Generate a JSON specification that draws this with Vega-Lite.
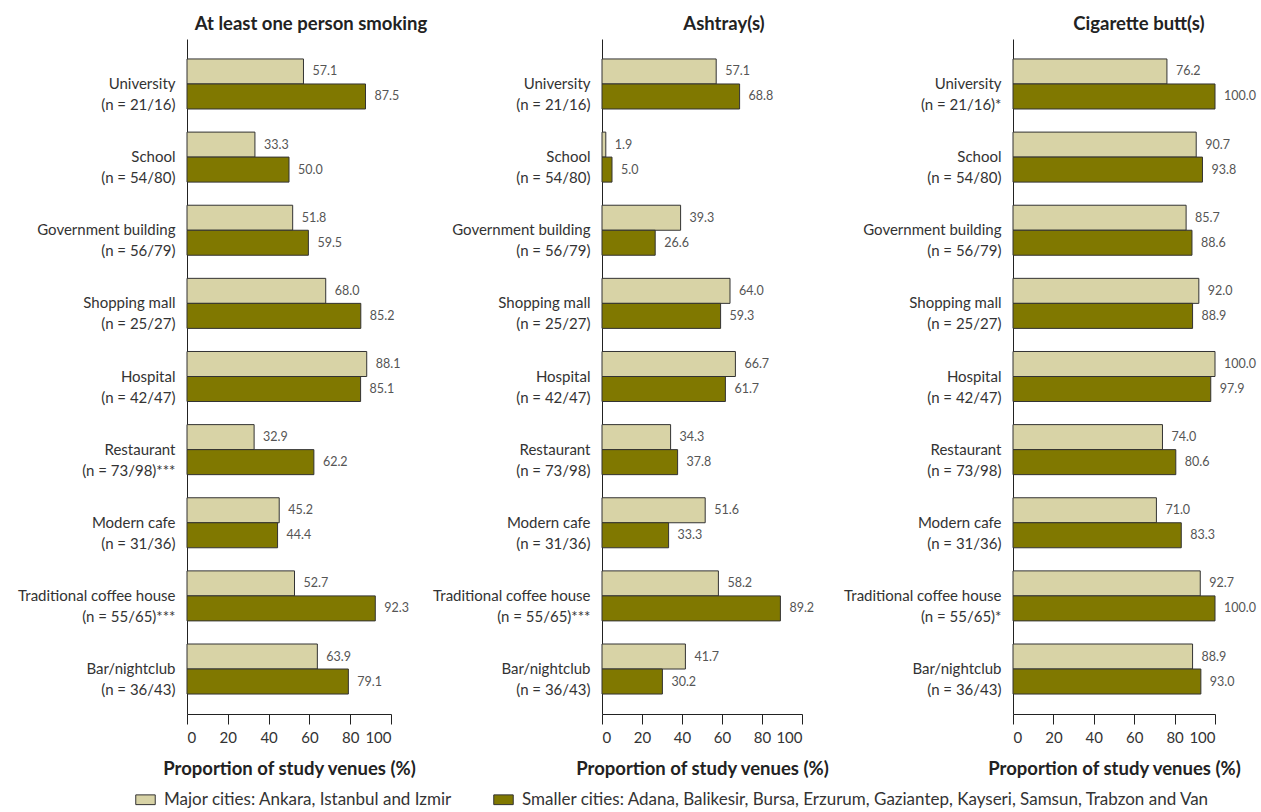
{
  "$schema": "https://vega.github.io/schema/vega-lite/v6.json",
  "padding": {"left": 17, "top": 14, "right": 5, "bottom": 5},
  "config": {
    "font": "Lato, sans-serif",
    "view": {"stroke": null},
    "concat": {"spacing": 211},
    "axis": {"domainColor": "#222", "tickColor": "#222", "labelColor": "#333", "titleColor": "#222", "grid": false}
  },
  "bounds": "flush",
  "data": {"values": [
    {"panel": "smoke", "venue": "University|(n = 21/16)", "o": 1, "g": "Major cities: Ankara, Istanbul and Izmir", "v": 57.1},
    {"panel": "smoke", "venue": "University|(n = 21/16)", "o": 1, "g": "Smaller cities: Adana, Balikesir, Bursa, Erzurum, Gaziantep, Kayseri, Samsun, Trabzon and Van", "v": 87.5},
    {"panel": "smoke", "venue": "School|(n = 54/80)", "o": 2, "g": "Major cities: Ankara, Istanbul and Izmir", "v": 33.3},
    {"panel": "smoke", "venue": "School|(n = 54/80)", "o": 2, "g": "Smaller cities: Adana, Balikesir, Bursa, Erzurum, Gaziantep, Kayseri, Samsun, Trabzon and Van", "v": 50.0},
    {"panel": "smoke", "venue": "Government building|(n = 56/79)", "o": 3, "g": "Major cities: Ankara, Istanbul and Izmir", "v": 51.8},
    {"panel": "smoke", "venue": "Government building|(n = 56/79)", "o": 3, "g": "Smaller cities: Adana, Balikesir, Bursa, Erzurum, Gaziantep, Kayseri, Samsun, Trabzon and Van", "v": 59.5},
    {"panel": "smoke", "venue": "Shopping mall|(n = 25/27)", "o": 4, "g": "Major cities: Ankara, Istanbul and Izmir", "v": 68.0},
    {"panel": "smoke", "venue": "Shopping mall|(n = 25/27)", "o": 4, "g": "Smaller cities: Adana, Balikesir, Bursa, Erzurum, Gaziantep, Kayseri, Samsun, Trabzon and Van", "v": 85.2},
    {"panel": "smoke", "venue": "Hospital|(n = 42/47)", "o": 5, "g": "Major cities: Ankara, Istanbul and Izmir", "v": 88.1},
    {"panel": "smoke", "venue": "Hospital|(n = 42/47)", "o": 5, "g": "Smaller cities: Adana, Balikesir, Bursa, Erzurum, Gaziantep, Kayseri, Samsun, Trabzon and Van", "v": 85.1},
    {"panel": "smoke", "venue": "Restaurant|(n = 73/98)***", "o": 6, "g": "Major cities: Ankara, Istanbul and Izmir", "v": 32.9},
    {"panel": "smoke", "venue": "Restaurant|(n = 73/98)***", "o": 6, "g": "Smaller cities: Adana, Balikesir, Bursa, Erzurum, Gaziantep, Kayseri, Samsun, Trabzon and Van", "v": 62.2},
    {"panel": "smoke", "venue": "Modern cafe|(n = 31/36)", "o": 7, "g": "Major cities: Ankara, Istanbul and Izmir", "v": 45.2},
    {"panel": "smoke", "venue": "Modern cafe|(n = 31/36)", "o": 7, "g": "Smaller cities: Adana, Balikesir, Bursa, Erzurum, Gaziantep, Kayseri, Samsun, Trabzon and Van", "v": 44.4},
    {"panel": "smoke", "venue": "Traditional coffee house|(n = 55/65)***", "o": 8, "g": "Major cities: Ankara, Istanbul and Izmir", "v": 52.7},
    {"panel": "smoke", "venue": "Traditional coffee house|(n = 55/65)***", "o": 8, "g": "Smaller cities: Adana, Balikesir, Bursa, Erzurum, Gaziantep, Kayseri, Samsun, Trabzon and Van", "v": 92.3},
    {"panel": "smoke", "venue": "Bar/nightclub|(n = 36/43)", "o": 9, "g": "Major cities: Ankara, Istanbul and Izmir", "v": 63.9},
    {"panel": "smoke", "venue": "Bar/nightclub|(n = 36/43)", "o": 9, "g": "Smaller cities: Adana, Balikesir, Bursa, Erzurum, Gaziantep, Kayseri, Samsun, Trabzon and Van", "v": 79.1},

    {"panel": "ash", "venue": "University|(n = 21/16)", "o": 1, "g": "Major cities: Ankara, Istanbul and Izmir", "v": 57.1},
    {"panel": "ash", "venue": "University|(n = 21/16)", "o": 1, "g": "Smaller cities: Adana, Balikesir, Bursa, Erzurum, Gaziantep, Kayseri, Samsun, Trabzon and Van", "v": 68.8},
    {"panel": "ash", "venue": "School|(n = 54/80)", "o": 2, "g": "Major cities: Ankara, Istanbul and Izmir", "v": 1.9},
    {"panel": "ash", "venue": "School|(n = 54/80)", "o": 2, "g": "Smaller cities: Adana, Balikesir, Bursa, Erzurum, Gaziantep, Kayseri, Samsun, Trabzon and Van", "v": 5.0},
    {"panel": "ash", "venue": "Government building|(n = 56/79)", "o": 3, "g": "Major cities: Ankara, Istanbul and Izmir", "v": 39.3},
    {"panel": "ash", "venue": "Government building|(n = 56/79)", "o": 3, "g": "Smaller cities: Adana, Balikesir, Bursa, Erzurum, Gaziantep, Kayseri, Samsun, Trabzon and Van", "v": 26.6},
    {"panel": "ash", "venue": "Shopping mall|(n = 25/27)", "o": 4, "g": "Major cities: Ankara, Istanbul and Izmir", "v": 64.0},
    {"panel": "ash", "venue": "Shopping mall|(n = 25/27)", "o": 4, "g": "Smaller cities: Adana, Balikesir, Bursa, Erzurum, Gaziantep, Kayseri, Samsun, Trabzon and Van", "v": 59.3},
    {"panel": "ash", "venue": "Hospital|(n = 42/47)", "o": 5, "g": "Major cities: Ankara, Istanbul and Izmir", "v": 66.7},
    {"panel": "ash", "venue": "Hospital|(n = 42/47)", "o": 5, "g": "Smaller cities: Adana, Balikesir, Bursa, Erzurum, Gaziantep, Kayseri, Samsun, Trabzon and Van", "v": 61.7},
    {"panel": "ash", "venue": "Restaurant|(n = 73/98)", "o": 6, "g": "Major cities: Ankara, Istanbul and Izmir", "v": 34.3},
    {"panel": "ash", "venue": "Restaurant|(n = 73/98)", "o": 6, "g": "Smaller cities: Adana, Balikesir, Bursa, Erzurum, Gaziantep, Kayseri, Samsun, Trabzon and Van", "v": 37.8},
    {"panel": "ash", "venue": "Modern cafe|(n = 31/36)", "o": 7, "g": "Major cities: Ankara, Istanbul and Izmir", "v": 51.6},
    {"panel": "ash", "venue": "Modern cafe|(n = 31/36)", "o": 7, "g": "Smaller cities: Adana, Balikesir, Bursa, Erzurum, Gaziantep, Kayseri, Samsun, Trabzon and Van", "v": 33.3},
    {"panel": "ash", "venue": "Traditional coffee house|(n = 55/65)***", "o": 8, "g": "Major cities: Ankara, Istanbul and Izmir", "v": 58.2},
    {"panel": "ash", "venue": "Traditional coffee house|(n = 55/65)***", "o": 8, "g": "Smaller cities: Adana, Balikesir, Bursa, Erzurum, Gaziantep, Kayseri, Samsun, Trabzon and Van", "v": 89.2},
    {"panel": "ash", "venue": "Bar/nightclub|(n = 36/43)", "o": 9, "g": "Major cities: Ankara, Istanbul and Izmir", "v": 41.7},
    {"panel": "ash", "venue": "Bar/nightclub|(n = 36/43)", "o": 9, "g": "Smaller cities: Adana, Balikesir, Bursa, Erzurum, Gaziantep, Kayseri, Samsun, Trabzon and Van", "v": 30.2},

    {"panel": "butt", "venue": "University|(n = 21/16)*", "o": 1, "g": "Major cities: Ankara, Istanbul and Izmir", "v": 76.2},
    {"panel": "butt", "venue": "University|(n = 21/16)*", "o": 1, "g": "Smaller cities: Adana, Balikesir, Bursa, Erzurum, Gaziantep, Kayseri, Samsun, Trabzon and Van", "v": 100.0},
    {"panel": "butt", "venue": "School|(n = 54/80)", "o": 2, "g": "Major cities: Ankara, Istanbul and Izmir", "v": 90.7},
    {"panel": "butt", "venue": "School|(n = 54/80)", "o": 2, "g": "Smaller cities: Adana, Balikesir, Bursa, Erzurum, Gaziantep, Kayseri, Samsun, Trabzon and Van", "v": 93.8},
    {"panel": "butt", "venue": "Government building|(n = 56/79)", "o": 3, "g": "Major cities: Ankara, Istanbul and Izmir", "v": 85.7},
    {"panel": "butt", "venue": "Government building|(n = 56/79)", "o": 3, "g": "Smaller cities: Adana, Balikesir, Bursa, Erzurum, Gaziantep, Kayseri, Samsun, Trabzon and Van", "v": 88.6},
    {"panel": "butt", "venue": "Shopping mall|(n = 25/27)", "o": 4, "g": "Major cities: Ankara, Istanbul and Izmir", "v": 92.0},
    {"panel": "butt", "venue": "Shopping mall|(n = 25/27)", "o": 4, "g": "Smaller cities: Adana, Balikesir, Bursa, Erzurum, Gaziantep, Kayseri, Samsun, Trabzon and Van", "v": 88.9},
    {"panel": "butt", "venue": "Hospital|(n = 42/47)", "o": 5, "g": "Major cities: Ankara, Istanbul and Izmir", "v": 100.0},
    {"panel": "butt", "venue": "Hospital|(n = 42/47)", "o": 5, "g": "Smaller cities: Adana, Balikesir, Bursa, Erzurum, Gaziantep, Kayseri, Samsun, Trabzon and Van", "v": 97.9},
    {"panel": "butt", "venue": "Restaurant|(n = 73/98)", "o": 6, "g": "Major cities: Ankara, Istanbul and Izmir", "v": 74.0},
    {"panel": "butt", "venue": "Restaurant|(n = 73/98)", "o": 6, "g": "Smaller cities: Adana, Balikesir, Bursa, Erzurum, Gaziantep, Kayseri, Samsun, Trabzon and Van", "v": 80.6},
    {"panel": "butt", "venue": "Modern cafe|(n = 31/36)", "o": 7, "g": "Major cities: Ankara, Istanbul and Izmir", "v": 71.0},
    {"panel": "butt", "venue": "Modern cafe|(n = 31/36)", "o": 7, "g": "Smaller cities: Adana, Balikesir, Bursa, Erzurum, Gaziantep, Kayseri, Samsun, Trabzon and Van", "v": 83.3},
    {"panel": "butt", "venue": "Traditional coffee house|(n = 55/65)*", "o": 8, "g": "Major cities: Ankara, Istanbul and Izmir", "v": 92.7},
    {"panel": "butt", "venue": "Traditional coffee house|(n = 55/65)*", "o": 8, "g": "Smaller cities: Adana, Balikesir, Bursa, Erzurum, Gaziantep, Kayseri, Samsun, Trabzon and Van", "v": 100.0},
    {"panel": "butt", "venue": "Bar/nightclub|(n = 36/43)", "o": 9, "g": "Major cities: Ankara, Istanbul and Izmir", "v": 88.9},
    {"panel": "butt", "venue": "Bar/nightclub|(n = 36/43)", "o": 9, "g": "Smaller cities: Adana, Balikesir, Bursa, Erzurum, Gaziantep, Kayseri, Samsun, Trabzon and Van", "v": 93.0}
  ]},
  "hconcat": [
    {
      "title": {"text": "At least one person smoking", "fontSize": 18.5, "fontWeight": "bold", "color": "#222", "dx": 22, "offset": 6},
      "width": 204, "height": 675,
      "transform": [{"filter": "datum.panel === 'smoke'"}],
      "encoding": {
        "y": {"field": "venue", "type": "nominal", "sort": {"field": "o"}, "scale": {"paddingInner": 0.316, "paddingOuter": 0.273},
              "axis": {"title": null, "ticks": false, "labelFontSize": 15, "labelPadding": 12, "labelLineHeight": 21, "labelExpr": "split(datum.label, '|')", "labelLimit": 400}},
        "yOffset": {"field": "g", "type": "nominal", "scale": {"paddingInner": 0}},
        "x": {"field": "v", "type": "quantitative", "scale": {"domain": [0, 100]},
              "axis": {"values": [0, 20, 40, 60, 80, 100], "tickSize": 10, "labelFontSize": 15, "labelPadding": 6, "labelOverlap": false, "title": "Proportion of study venues (%)", "titleFontSize": 18.5, "titleFontWeight": "bold", "titlePadding": 14}}
      },
      "layer": [
        {"mark": {"type": "bar", "stroke": "#333", "strokeWidth": 1},
         "encoding": {"color": {"field": "g", "type": "nominal", "scale": {"range": ["#d8d3a6", "#807800"]}, "legend": {"title": null, "orient": "none", "legendX": -52, "legendY": 750, "direction": "horizontal", "labelFontSize": 17, "labelLimit": 1000, "symbolType": "M-1,-0.5H1V0.5H-1Z", "symbolSize": 380, "symbolStrokeColor": "#333", "symbolStrokeWidth": 1, "columnPadding": 38, "labelColor": "#333", "labelOffset": 8}}}},
        {"mark": {"type": "text", "align": "left", "dx": 9, "fontSize": 12.5, "color": "#555"},
         "encoding": {"text": {"field": "v", "type": "quantitative", "format": ".1f"}}}
      ]
    },
    {
      "title": {"text": "Ashtray(s)", "fontSize": 18.5, "fontWeight": "bold", "color": "#222", "dx": 22, "offset": 6},
      "width": 200, "height": 675,
      "transform": [{"filter": "datum.panel === 'ash'"}],
      "encoding": {
        "y": {"field": "venue", "type": "nominal", "sort": {"field": "o"}, "scale": {"paddingInner": 0.316, "paddingOuter": 0.273},
              "axis": {"title": null, "ticks": false, "labelFontSize": 15, "labelPadding": 12, "labelLineHeight": 21, "labelExpr": "split(datum.label, '|')", "labelLimit": 400}},
        "yOffset": {"field": "g", "type": "nominal", "scale": {"paddingInner": 0}},
        "x": {"field": "v", "type": "quantitative", "scale": {"domain": [0, 100]},
              "axis": {"values": [0, 20, 40, 60, 80, 100], "tickSize": 10, "labelFontSize": 15, "labelPadding": 6, "labelOverlap": false, "title": "Proportion of study venues (%)", "titleFontSize": 18.5, "titleFontWeight": "bold", "titlePadding": 14}}
      },
      "layer": [
        {"mark": {"type": "bar", "stroke": "#333", "strokeWidth": 1},
         "encoding": {"color": {"field": "g", "type": "nominal", "scale": {"range": ["#d8d3a6", "#807800"]}}}},
        {"mark": {"type": "text", "align": "left", "dx": 9, "fontSize": 12.5, "color": "#555"},
         "encoding": {"text": {"field": "v", "type": "quantitative", "format": ".1f"}}}
      ]
    },
    {
      "title": {"text": "Cigarette butt(s)", "fontSize": 18.5, "fontWeight": "bold", "color": "#222", "dx": 25, "offset": 6},
      "width": 202, "height": 675,
      "transform": [{"filter": "datum.panel === 'butt'"}],
      "encoding": {
        "y": {"field": "venue", "type": "nominal", "sort": {"field": "o"}, "scale": {"paddingInner": 0.316, "paddingOuter": 0.273},
              "axis": {"title": null, "ticks": false, "labelFontSize": 15, "labelPadding": 12, "labelLineHeight": 21, "labelExpr": "split(datum.label, '|')", "labelLimit": 400}},
        "yOffset": {"field": "g", "type": "nominal", "scale": {"paddingInner": 0}},
        "x": {"field": "v", "type": "quantitative", "scale": {"domain": [0, 100]},
              "axis": {"values": [0, 20, 40, 60, 80, 100], "tickSize": 10, "labelFontSize": 15, "labelPadding": 6, "labelOverlap": false, "title": "Proportion of study venues (%)", "titleFontSize": 18.5, "titleFontWeight": "bold", "titlePadding": 14}}
      },
      "layer": [
        {"mark": {"type": "bar", "stroke": "#333", "strokeWidth": 1},
         "encoding": {"color": {"field": "g", "type": "nominal", "scale": {"range": ["#d8d3a6", "#807800"]}}}},
        {"mark": {"type": "text", "align": "left", "dx": 9, "fontSize": 12.5, "color": "#555"},
         "encoding": {"text": {"field": "v", "type": "quantitative", "format": ".1f"}}}
      ]
    }
  ]
}
